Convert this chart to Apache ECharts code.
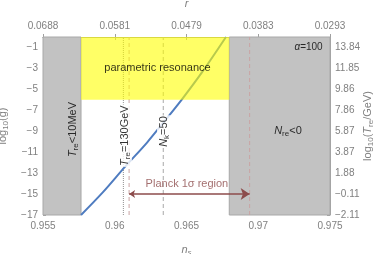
<!DOCTYPE html>
<html><head><meta charset="utf-8">
<script src="https://cdn.jsdelivr.net/npm/echarts@6/dist/echarts.min.js"></script>
<style>html,body{margin:0;padding:0;background:#fff}#c{width:382px;height:254px}</style>
</head><body><div id="c"></div>
<script>
const nsTickLabels = ['0.955', '0.96', '0.965', '0.97', '0.975'];
const rTickLabels = ['0.0688', '0.0581', '0.0479', '0.0383', '0.0293'];
const logGTickLabels = ['−17', '−15', '−13', '−11', '−9', '−7', '−5', '−3', '−1'];
const tReTickLabels = ['−2.11', '−0.11', '1.88', '3.87', '5.87', '7.86', '9.86', '11.85', '13.84'];
const curveNs = [0.95765, 0.95918, 0.96071, 0.96225, 0.96338, 0.96467, 0.96615, 0.96775];
const curveLogG = [-17, -14.82, -12.41, -10.08, -8.19, -5.98, -3.24, 0];
const nsRange = [0.955, 0.975];
const logGRange = [-17, 0];
const tReMinNs = 0.95765;
const nReZeroNs = 0.96798;
const resonanceLogG = -6;
const tRe130Ns = 0.9606;
const nk50Ns = 0.96338;
const planckNs = [0.9610, 0.9694];
const planckArrowLogG = -15;

const FONT = 'Liberation Sans, Arial, sans-serif';
const GREY_TXT = '#808080';
const FRAME = '#a0a0a0';
const BROWN = '#8c4b4b';

function tickFmt(labels, start, step) {
  return function (v) {
    const k = (v - start) / step;
    const i = Math.round(k);
    if (Math.abs(k - i) > 1e-6) return '';
    return labels[i] !== undefined ? labels[i] : '';
  };
}

const subRich = {
  it: { fontStyle: 'italic', fontFamily: FONT, fontSize: 11, color: '#000', lineHeight: 14 },
  n: { fontFamily: FONT, fontSize: 11, color: '#000', lineHeight: 14 },
  sub: { fontFamily: FONT, fontSize: 8, color: '#000', verticalAlign: 'bottom', lineHeight: 14, padding: [6, 0, 0, 0] }
};

const baseAxis = {
  type: 'value',
  axisLine: { show: true, lineStyle: { color: FRAME, width: 1 } },
  axisTick: { show: true, inside: true, length: 3, lineStyle: { color: FRAME } },
  splitLine: { show: false },
  axisLabel: { color: GREY_TXT, fontSize: 10, fontFamily: FONT },
  nameMoveOverlap: false
};

function vline(x, type, color) {
  return {
    type: 'line', data: [[x, logGRange[0]], [x, logGRange[1]]], symbol: 'none', z: 2,
    lineStyle: { color: color, width: 1, type: type }, silent: true
  };
}

function textItem(x, y, text, extra) {
  return { value: [x, y], label: Object.assign({ show: true, position: 'inside', formatter: text, rich: subRich, color: '#000', fontFamily: FONT, fontSize: 11 }, extra || {}) };
}

const option = {
  animation: false,
  grid: { left: 43, right: 52, top: 37, bottom: 39, containLabel: false, outerBoundsMode: 'none' },
  xAxis: [
    Object.assign({}, baseAxis, {
      min: nsRange[0], max: nsRange[1], interval: 0.005, position: 'bottom',
      axisLabel: Object.assign({}, baseAxis.axisLabel, { margin: 6, formatter: tickFmt(nsTickLabels, 0.955, 0.005) }),
      name: '{it|n}{sub|s}', nameLocation: 'middle', nameGap: 28,
      nameTextStyle: { color: GREY_TXT, rich: { it: { fontStyle: 'italic', fontSize: 11, color: GREY_TXT, fontFamily: FONT, lineHeight: 14 }, sub: { fontStyle: 'italic', fontSize: 8, color: GREY_TXT, fontFamily: FONT, verticalAlign: 'bottom', lineHeight: 14, padding: [6, 0, 0, 0] } } }
    }),
    Object.assign({}, baseAxis, {
      min: nsRange[0], max: nsRange[1], interval: 0.005, position: 'top',
      axisLabel: Object.assign({}, baseAxis.axisLabel, { margin: 6, formatter: tickFmt(rTickLabels, 0.955, 0.005) }),
      name: 'r', nameLocation: 'middle', nameGap: 28,
      nameTextStyle: { color: GREY_TXT, fontStyle: 'italic', fontSize: 11, fontFamily: FONT }
    })
  ],
  yAxis: [
    Object.assign({}, baseAxis, {
      min: logGRange[0], max: logGRange[1], interval: 2, position: 'left',
      axisLabel: Object.assign({}, baseAxis.axisLabel, { margin: 5, formatter: tickFmt(logGTickLabels, -17, 2) }),
      name: 'log{sub|10}(g\u0305)', nameLocation: 'middle', nameGap: 33, nameRotate: 90,
      nameTextStyle: { color: GREY_TXT, fontSize: 11, fontFamily: FONT, rich: { sub: { fontSize: 8, color: GREY_TXT, fontFamily: FONT, verticalAlign: 'bottom', lineHeight: 14, padding: [5, 0, 0, 0] } } }
    }),
    Object.assign({}, baseAxis, {
      min: logGRange[0], max: logGRange[1], interval: 2, position: 'right',
      axisLabel: Object.assign({}, baseAxis.axisLabel, { margin: 5, formatter: tickFmt(tReTickLabels, -17, 2) }),
      name: 'log{sub|10}({it|T}{sub|re}/GeV)', nameLocation: 'middle', nameGap: 31, nameRotate: 90,
      nameTextStyle: { color: GREY_TXT, fontSize: 11, fontFamily: FONT, rich: { it: { fontStyle: 'italic', fontSize: 11, color: GREY_TXT, fontFamily: FONT, lineHeight: 14 }, sub: { fontSize: 8, color: GREY_TXT, fontFamily: FONT, verticalAlign: 'bottom', lineHeight: 14, padding: [5, 0, 0, 0] } } }
    })
  ],
  series: [
    {
      type: 'line', data: [], z: 1, silent: true,
      markArea: {
        silent: true, z: 1,
        itemStyle: { color: '#c2c2c2', borderColor: '#a8a8a8', borderWidth: 1 },
        data: [
          [{ coord: [nsRange[0], logGRange[0]] }, { coord: [tReMinNs, logGRange[1]] }],
          [{ coord: [nReZeroNs, logGRange[0]] }, { coord: [nsRange[1], logGRange[1]] }]
        ]
      }
    },
    vline(tRe130Ns, 'dotted', '#909090'),
    vline(nk50Ns, [4, 3], '#a8a8a8'),
    vline(planckNs[0], [4, 3], '#c9a3a3'),
    vline(planckNs[1], [4, 3], '#c9a3a3'),
    {
      type: 'line', data: curveNs.map((x, i) => [x, curveLogG[i]]), symbol: 'none', smooth: 0.3, z: 2,
      lineStyle: { color: '#4f7cc0', width: 2 }, silent: true
    },
    {
      type: 'line', data: [], z: 3, silent: true,
      markArea: {
        silent: true, z: 3,
        itemStyle: { color: 'rgba(255,255,0,0.6)' },
        data: [[{ coord: [tReMinNs, resonanceLogG] }, { coord: [nReZeroNs, logGRange[1]] }]]
      }
    },
    {
      type: 'lines', coordinateSystem: 'cartesian2d', z: 4, silent: true,
      symbol: ['arrow', 'arrow'], symbolSize: [6, 9],
      lineStyle: { color: BROWN, width: 1.5, opacity: 1 },
      data: [{ coords: [[planckNs[0], planckArrowLogG], [planckNs[1], planckArrowLogG]] }]
    },
    {
      type: 'scatter', symbolSize: 0, z: 5, silent: true,
      data: [
        textItem(0.96298, -3, 'parametric resonance', { fontSize: 11 }),
        textItem(0.96503, -14.0, 'Planck 1σ region', { color: BROWN, fontSize: 11 }),
        textItem(0.97449, -1, '{it|α}{n|=100}', { position: 'left', distance: 0, rich: { it: { fontStyle: 'italic', fontSize: 10, fontFamily: FONT, color: '#000' }, n: { fontSize: 10, fontFamily: FONT, color: '#000' } } }),
        textItem(0.95709, -8.84, '{it|T}{sub|re}{n|<10MeV}', { rotate: 90 }),
        textItem(0.96071, -9.42, '{it|T}{sub|re}{n|=130GeV}', { rotate: 90, backgroundColor: '#fff', padding: [0, 1] }),
        textItem(0.96343, -9.03, '{it|N}{sub|k}{n|=50}', { rotate: 90, backgroundColor: '#fff', padding: [0, 1] }),
        textItem(0.97207, -8.94, '{it|N}{sub|re}{n|<0}', {})
      ]
    }
  ]
};

const chart = echarts.init(document.getElementById('c'), null, { renderer: 'canvas' });
chart.setOption(option);
</script>
</body></html>
